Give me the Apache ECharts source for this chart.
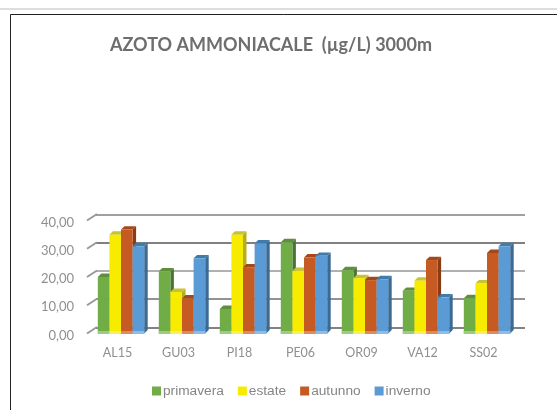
<!DOCTYPE html>
<html><head><meta charset="utf-8">
<style>html,body{margin:0;padding:0;background:#fff}#c{width:557px;height:410px}</style>
<script src="https://cdn.jsdelivr.net/npm/echarts@6/dist/echarts.min.js"></script>
</head><body><div id="c"></div>
<script>
const categories = ['AL15','GU03','PI18','PE06','OR09','VA12','SS02'];
const primavera = [20.0,22.0,8.7,32.3,22.4,15.1,12.5];
const estate    = [35.0,14.7,35.0,22.2,19.6,18.7,17.7];
const autunno   = [36.8,12.4,23.4,26.9,18.9,26.0,28.5];
const inverno   = [30.9,26.6,31.9,27.5,19.2,12.8,30.9];
const yTicks = [0,10,20,30,40];
const seasons = [
  {name:'primavera',data:primavera,front:'#70ad47',top:'#5f8f3c',side:'#4c7433',base:'#9ccb82'},
  {name:'estate',data:estate,front:'#f7ec00',top:'#c9c232',side:'#b5ad20',base:'#f9ef5e'},
  {name:'autunno',data:autunno,front:'#c55a22',top:'#a4481b',side:'#8a3c15',base:'#e08a5c'},
  {name:'inverno',data:inverno,front:'#5b9bd5',top:'#3f7cac',side:'#3c6a92',base:'#8dbcea'}
];
const barW = 11.6, dx = 3.5, dy = 3.4, shift = 3.5;
function barRenderer(idx, s){
  return function(params, api){
    const c = api.coord([api.value(0), api.value(1)]);
    const b = api.coord([api.value(0), 0]);
    const x = c[0] + shift + (idx-2)*barW;
    const w = barW, t = c[1], h = b[1]-c[1];
    return {type:'group',children:[
      {type:'polygon',shape:{points:[[x+w,t],[x+w+dx,t-dy],[x+w+dx,t-dy+h],[x+w,t+h]]},style:{fill:s.side}},
      {type:'polygon',shape:{points:[[x,t],[x+dx,t-dy],[x+w+dx,t-dy],[x+w,t]]},style:{fill:s.top}},
      {type:'rect',shape:{x:x,y:t,width:w,height:h},style:{fill:s.front}},
      {type:'rect',shape:{x:x,y:b[1]-2.5,width:w,height:3},style:{fill:s.base}}
    ]};
  };
}
const series = [{
  type:'custom',name:'stubs',coordinateSystem:'cartesian2d',xAxisIndex:0,yAxisIndex:0,silent:true,clip:false,z:1,
  data:yTicks.map(v=>[0,v]),
  renderItem:function(params,api){
    const p = api.coord([0,api.value(1)]);
    const x0 = params.coordSys.x;
    return {type:'line',shape:{x1:x0,y1:p[1],x2:x0+10,y2:p[1]-6.5},style:{stroke:'#999999',lineWidth:2,fill:null}};
  }
}];
seasons.forEach((s,i)=>series.push({
  type:'custom',name:s.name,coordinateSystem:'cartesian2d',xAxisIndex:0,yAxisIndex:0,clip:false,z:2+i,
  itemStyle:{color:s.front},
  data:s.data.map((v,k)=>[k,v]),
  encode:{x:0,y:1},
  renderItem:barRenderer(i,s)
}));
const chart = echarts.init(document.getElementById('c'),null,{renderer:'canvas'});
chart.setOption({
  animation:false,backgroundColor:'#ffffff',
  title:{text:'AZOTO AMMONIACALE  (µg/L) 3000m',left:105,top:31.5,
    textStyle:{fontFamily:'Lato',fontSize:18,fontWeight:'bold',color:'#6e6e6e'}},
  legend:{data:seasons.map(s=>s.name),left:147,top:379,icon:'rect',itemWidth:9,itemHeight:9,itemGap:14,
    textStyle:{fontFamily:'Liberation Sans',fontSize:13.7,color:'#858585',padding:[0,0,0,-3]}},
  grid:[
    {left:87,right:43,top:220.5,height:113},
    {left:96,right:32,top:215,height:112.3}
  ],
  xAxis:[
    {type:'category',gridIndex:0,data:categories,axisLine:{show:false},axisTick:{show:false},
      axisLabel:{fontFamily:'Lato',fontSize:12.5,color:'#8f8f8f',margin:13}},
    {type:'value',gridIndex:1,min:0,max:1,show:false}
  ],
  yAxis:[
    {type:'value',gridIndex:0,min:0,max:40,interval:10,splitLine:{show:false},axisLine:{show:false},axisTick:{show:false},
      axisLabel:{fontFamily:'Lato',fontSize:13,color:'#8f8f8f',margin:13,verticalAlign:'top',lineHeight:4,
        formatter:v=>v.toFixed(2).replace('.',',')}},
    {type:'value',gridIndex:1,min:0,max:40,interval:10,axisLine:{show:false},axisTick:{show:false},axisLabel:{show:false},
      splitLine:{show:true,lineStyle:{width:2,color:['#828282','#929292','#b0b0b0','#808080','#a0a0a0']}}}
  ],
  series:series,
  graphic:[
    {type:'rect',shape:{x:0,y:8,width:557,height:2},style:{fill:'#dddddd'},silent:true,z:0},
    {type:'line',shape:{x1:10.5,y1:14.5,x2:557,y2:14.5},style:{stroke:'#222222',lineWidth:1},silent:true,z:0},
    {type:'line',shape:{x1:10.5,y1:14.5,x2:10.5,y2:410},style:{stroke:'#222222',lineWidth:1},silent:true,z:0}
  ]
});
</script></body></html>
